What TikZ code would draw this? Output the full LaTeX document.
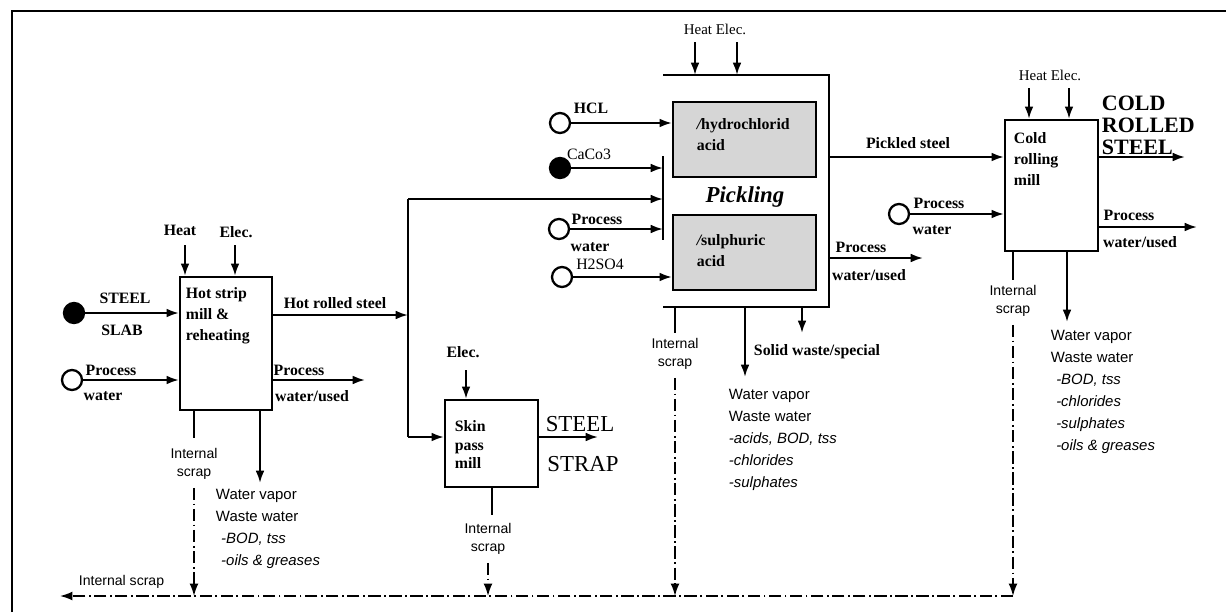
\documentclass[tikz,border=0pt]{standalone}
\usepackage{fontspec}
\setmainfont{Liberation Serif}
\setsansfont{Liberation Sans}
\usetikzlibrary{arrows.meta,calc,positioning}

\newcommand\lblfont{\fontsize{9}{10}\selectfont\bfseries}
\tikzset{
  box/.style={draw, line width=1.3pt, inner sep=0pt},
  acidbox/.style={box, fill=gray!32, minimum width=2.86cm, minimum height=1.5cm},
  boxtext/.style={font=\fontsize{9}{12}\selectfont\bfseries, align=left, inner sep=0pt},
  srcopen/.style={circle, draw, line width=1.3pt, minimum size=0.4cm, inner sep=0pt},
  srcfull/.style={srcopen, fill=black},
  flow/.style={-{Latex[length=7pt,width=5pt]}, line width=1.2pt},
  scrapline/.style={-{Latex[length=7pt,width=5pt]}, line width=0.9pt,
    dash pattern=on 7pt off 2pt on 1pt off 2pt},
  stub/.style={line width=0.9pt},
  lbl/.style={font=\lblfont, inner sep=0pt},
  energy/.style={font=\fontsize{8.5}{10}\selectfont, inner sep=0pt},
  scraplbl/.style={font=\sffamily\fontsize{8}{10.5}\selectfont, align=center, inner sep=0pt},
  waste/.style={font=\sffamily\fontsize{8.5}{12.6}\selectfont, align=left, inner sep=0pt},
  product/.style={font=\fontsize{13}{13}\selectfont, inner sep=0pt}
}

\begin{document}
\begin{tikzpicture}[x=0.02cm, y=-0.02cm, >=Stealth, line width=1.1pt]
    \useasboundingbox (0,0) rectangle (1226,612);

    % Frame
    \draw[line width=1.5pt] (12,612) -- (12,11) -- (1226,11);

    % Hot strip mill
    \node[box, minimum width=1.84cm, minimum height=2.66cm] (hot) at (226,343.5) {};
    \node[boxtext, anchor=north west] at ($(hot.north west)+(6,11)$) {Hot strip\\mill \&\\reheating};
    \coordinate (hotHeat) at (185,245);
    \coordinate (hotElec) at (235,245);
    \draw[flow] (hotHeat) -- (hotHeat |- hot.north);
    \draw[flow] (hotElec) -- (hotElec |- hot.north);
    \node[lbl] at (180,230) {Heat};
    \node[lbl] at (236,232) {Elec.};

    \node[srcfull] (slab) at (74,313) {};
    \draw[flow] (slab) -- (slab -| hot.west);
    \node[lbl] at (125,298) {STEEL};
    \node[lbl] at (122,330) {SLAB};

    \node[srcopen] (hotIn) at (72,380) {};
    \draw[flow] (hotIn) -- (hotIn -| hot.west);
    \node[lbl] at (111,370) {Process};
    \node[lbl] at (103,396) {water};

    \coordinate (hotOut) at (365,380);
    \draw[flow] (hot.east |- hotOut) -- (hotOut);
    \node[lbl] at (299,370) {Process};
    \node[lbl] at (312,396) {water/used};

    % Hot rolled steel split
    \coordinate (split) at (408,315);
    \coordinate (splitTop) at (408,199);
    \coordinate (splitBot) at (408,437);
    \draw[flow] (hot.east |- split) -- (split);
    \draw (splitTop) -- (splitBot);
    \node[lbl] at (335,303) {Hot rolled steel};

    \coordinate (hotDrop) at (260,483);
    \draw[flow] (hotDrop |- hot.south) -- (hotDrop);
    \node[waste, anchor=north west] at (215,488) {Water vapor\\Waste water\\\hspace{3pt}\textit{-BOD, tss}\\\hspace{3pt}\textit{-oils \& greases}};

    \coordinate (hotScrap) at (194,438);
    \draw[stub] (hotScrap |- hot.south) -- (hotScrap);
    \node[scraplbl] (hotScrapLbl) at (194,464) {Internal\\scrap};

    % Skin pass mill
    \node[box, minimum width=1.86cm, minimum height=1.74cm] (skin) at (491.5,443.5) {};
    \node[boxtext, anchor=north west, font=\fontsize{9}{10.5}\selectfont\bfseries] at ($(skin.north west)+(10,21)$) {Skin\\pass\\mill};
    \draw[flow] (splitBot) -- (splitBot -| skin.west);
    \coordinate (skinElec) at (466,370);
    \draw[flow] (skinElec) -- (skinElec |- skin.north);
    \node[lbl] at (463,352) {Elec.};
    \coordinate (strapOut) at (598,437);
    \draw[flow] (skin.east |- strapOut) -- (strapOut);
    \node[product] at (580,424) {STEEL};
    \node[product] at (583,464) {STRAP};

    \coordinate (skinScrap) at (492,515);
    \draw[stub] (skinScrap |- skin.south) -- (skinScrap);
    \node[scraplbl] (skinScrapLbl) at (488,539) {Internal\\scrap};

    % Pickling
    \coordinate (pkTL) at (663,75);
    \coordinate (pkTR) at (829,75);
    \coordinate (pkBR) at (829,307);
    \coordinate (pkBL) at (663,307);
    \draw[line width=1.3pt] (pkTL) -- (pkTR) -- (pkBR) -- (pkBL);
    \coordinate (barT) at (663,156);
    \coordinate (barB) at (663,240);
    \draw[line width=1.3pt] (barT) -- (barB);

    \node[acidbox] (hcl) at (744.5,139.5) {};
    \node[boxtext, anchor=north west] at ($(hcl.north west)+(24,17)$) {\itshape/\upshape hydrochlorid\\acid};
    \node[acidbox] (sul) at (744.5,252.5) {};
    \node[boxtext, anchor=north west] at ($(sul.north west)+(24,20)$) {\itshape/\upshape sulphuric\\acid};
    \node[font=\fontsize{13}{13}\selectfont\bfseries\itshape, inner sep=0pt] at (745,197) {Pickling};

    \coordinate (pkHeat) at (695,42);
    \coordinate (pkElec) at (737,42);
    \draw[flow] (pkHeat) -- (pkHeat |- pkTL);
    \draw[flow] (pkElec) -- (pkElec |- pkTL);
    \node[energy] at (715,29) {Heat Elec.};

    \node[srcopen] (hclIn) at (560,123) {};
    \draw[flow] (hclIn) -- (hclIn -| hcl.west);
    \node[lbl] at (591,108) {HCL};
    \node[srcfull] (caco) at (560,168) {};
    \draw[flow] (caco) -- (caco -| barT);
    \node[lbl, font=\fontsize{9}{10}\selectfont] at (589,154) {CaCo3};
    \draw[flow] (splitTop) -- (splitTop -| barT);
    \node[srcopen] (pkIn) at (559,229) {};
    \draw[flow] (pkIn) -- (pkIn -| barT);
    \node[lbl] at (597,219) {Process};
    \node[lbl] at (590,247) {water};
    \node[srcopen] (acidIn) at (562,277) {};
    \draw[flow] (acidIn) -- (acidIn -| sul.west);
    \node[lbl, font=\fontsize{9}{10}\selectfont] at (600,264) {H2SO4};

    \coordinate (pkOut) at (923,258);
    \draw[flow] (pkBR |- pkOut) -- (pkOut);
    \node[lbl] at (861,247) {Process};
    \node[lbl] at (869,275) {water/used};

    \coordinate (pkScrap) at (675,333);
    \draw[stub] (pkScrap |- pkBL) -- (pkScrap);
    \node[scraplbl] (pkScrapLbl) at (675,354) {Internal\\scrap};
    \coordinate (pkDrop) at (745,377);
    \draw[flow] (pkDrop |- pkBL) -- (pkDrop);
    \coordinate (pkSolid) at (802,333);
    \draw[flow] (pkSolid |- pkBL) -- (pkSolid);
    \node[lbl, anchor=west] at (753,352) {Solid waste/special};
    \node[waste, anchor=north west] at (728,388) {Water vapor\\Waste water\\\textit{-acids, BOD, tss}\\\textit{-chlorides}\\\textit{-sulphates}};

    % Cold rolling mill
    \node[box, minimum width=1.86cm, minimum height=2.62cm] (cold) at (1051.5,185.5) {};
    \node[boxtext, anchor=north west] at ($(cold.north west)+(9,13)$) {Cold\\rolling\\mill};
    \coordinate (coldHeat) at (1029,88);
    \coordinate (coldElec) at (1069,88);
    \draw[flow] (coldHeat) -- (coldHeat |- cold.north);
    \draw[flow] (coldElec) -- (coldElec |- cold.north);
    \node[energy] at (1050,75) {Heat Elec.};

    \coordinate (pickled) at (908,157);
    \draw[flow] (pkTR |- pickled) -- (pickled -| cold.west);
    \node[lbl] at (908,143) {Pickled steel};

    \node[srcopen] (coldIn) at (899,214) {};
    \draw[flow] (coldIn) -- (coldIn -| cold.west);
    \node[lbl] at (939,203) {Process};
    \node[lbl] at (932,230) {water};

    \coordinate (crsOut) at (1185,157);
    \draw[flow] (cold.east |- crsOut) -- (crsOut);
    \node[product, font=\fontsize{12.5}{12.5}\selectfont\bfseries, anchor=west] at (1101,103) {COLD};
    \node[product, font=\fontsize{12.5}{12.5}\selectfont\bfseries, anchor=west] at (1101,125) {ROLLED};
    \node[product, font=\fontsize{12.5}{12.5}\selectfont\bfseries, anchor=west] at (1101,147) {STEEL};

    \coordinate (coldOut) at (1197,227);
    \draw[flow] (cold.east |- coldOut) -- (coldOut);
    \node[lbl] at (1129,215) {Process};
    \node[lbl] at (1140,242) {water/used};

    \coordinate (coldScrap) at (1013,280);
    \draw[stub] (coldScrap |- cold.south) -- (coldScrap);
    \node[scraplbl] (coldScrapLbl) at (1013,301) {Internal\\scrap};
    \coordinate (coldDrop) at (1067,322);
    \draw[flow] (coldDrop |- cold.south) -- (coldDrop);
    \node[waste, anchor=north west] at (1050,329) {Water vapor\\Waste water\\\hspace{3pt}\textit{-BOD, tss}\\\hspace{3pt}\textit{-chlorides}\\\hspace{3pt}\textit{-sulphates}\\\hspace{3pt}\textit{-oils \& greases}};

    % Internal scrap return
    \coordinate (collR) at (1013,596);
    \coordinate (collL) at (60,596);
    \foreach \lab in {hotScrapLbl, skinScrapLbl, pkScrapLbl, coldScrapLbl}
        \draw[scrapline] ([yshift=-4pt]\lab.south) -- (\lab.south |- collR);
    \draw[scrapline] (collR) -- (collL);
    \node[scraplbl, anchor=south west] at (78,589) {Internal scrap};
\end{tikzpicture}
\end{document}
